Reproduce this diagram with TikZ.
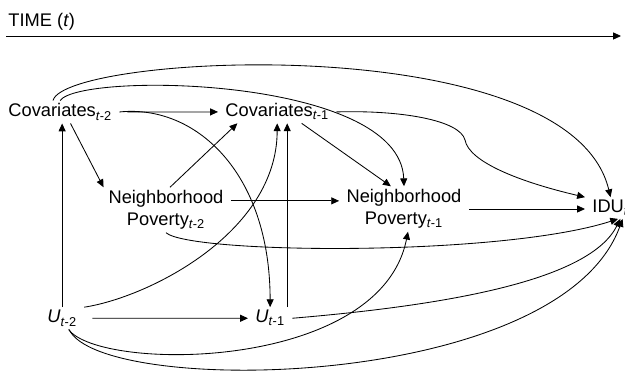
\documentclass[tikz,border=0pt]{standalone}
\usepackage{fontspec}
\setmainfont{Liberation Sans}
\usetikzlibrary{arrows.meta}

\begin{document}
\begin{tikzpicture}
                    [x=0.025cm, y=0.025cm,
                    var/.style={inner xsep=5pt, inner ysep=2pt,
                        anchor=base west},
                    np/.style={inner xsep=5pt, inner ysep=2pt,
                        align=center},
                    font=\fontsize{13}{15.6}\selectfont,
                    line width=0.6pt,
                    >={Triangle[length=5.6pt,width=5pt]}]

                    \useasboundingbox (0,0) rectangle (625,372);

                    \node[anchor=base west, inner sep=0pt] (time)
                        at (8,345) {TIME (\textit{t})};
                    \coordinate (t0) at (6,336);
                    \coordinate (t1) at (621,336);

                    \node[var] (cov2) at (1,255)
                        {Covariates\textsubscript{\textit{t}-2}};
                    \node[var] (cov1) at (218,255)
                        {Covariates\textsubscript{\textit{t}-1}};
                    \node[np] (np2) at (166,162)
                        {Neighborhood\\Poverty\textsubscript{\textit{t}-2}};
                    \node[np] (np1) at (404,163)
                        {Neighborhood\\Poverty\textsubscript{\textit{t}-1}};
                    \node[var] (idu) at (585,159)
                        {IDU\textsubscript{\textit{t}}};
                    \node[var] (u2) at (40,49)
                        {\textit{U}\textsubscript{\textit{t}-2}};
                    \node[var] (u1) at (248,49)
                        {\textit{U}\textsubscript{\textit{t}-1}};

                    \draw[->] (t0) -- (t1);

                    \path[->]
                        (cov2.east)  edge[shorten <=2mm] (cov1.west)
                        (u2.east)    edge[shorten <=2mm] (u1.west)
                        (np2.8)      edge (np2.8 -| np1.west)
                        (np1.east)   edge (np1.east -| idu.west)
                        (cov2.-48)   edge (np2.160)
                        (np2.80)     edge (cov1.-164)
                        (cov1.-25)   edge (np1.120)
                        (u2.north)   edge (u2.north |- cov2.south)
                        (u1.33)      edge (u1.33 |- cov1.south);

                    \draw[->] (cov2.122)
                        .. controls (65,318) and (570,345) .. (idu.north);
                    \draw[->] (cov2.north)
                        .. controls (80,300) and (400,296) .. (np1.north);
                    \draw[->] (cov1.east)
                        .. controls (400,262) and (460,252) .. (465,232)
                        .. controls (469,210) and (520,190) .. (idu.north west);
                    \draw[->] (cov2.east)
                        .. controls (195,268) and (270,200) .. (u1.north);
                    \draw[->] (u2.north east)
                        .. controls (150,75) and (277,140) .. (cov1.south);
                    \draw[->] (np2.south)
                        .. controls (190,118) and (500,115) .. (idu.-55);
                    \draw[->] (u1.east)
                        .. controls (450,67) and (590,92) .. (idu.-48);
                    \draw[->] (u2.-60)
                        .. controls (100,0) and (380,0) .. (np1.-80);
                    \draw[->] (u2.-58)
                        .. controls (100,-25) and (560,-20) .. (idu.-42);
\end{tikzpicture}
\end{document}
